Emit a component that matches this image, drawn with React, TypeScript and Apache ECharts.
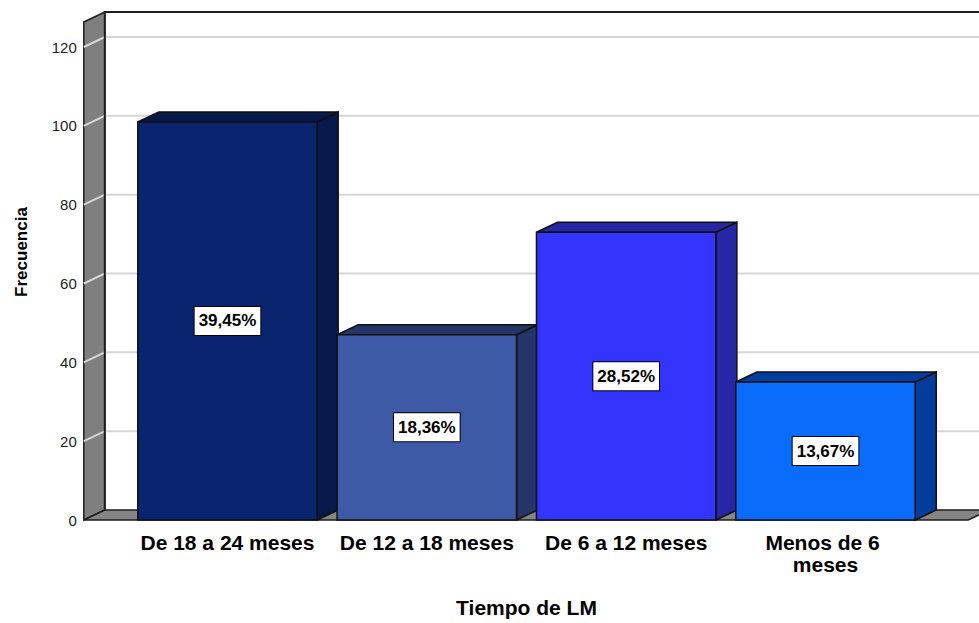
import { useEffect, useRef } from "react";
import * as echarts from "echarts";

// Duración de la lactancia materna (LM): frecuencias por categoría
const categories = ["De 18 a 24 meses", "De 12 a 18 meses", "De 6 a 12 meses", "Menos de 6 meses"];
const frequencies = [101, 47, 73, 35];
const yTicks = [20, 40, 60, 80, 100, 120];

// front face colour and darker shade for the top/side faces of each box
const frontColors = ["#0b2470", "#3e5aa7", "#3434ff", "#0a6cfb"];
const shadeColors = ["#07194a", "#253567", "#2626a6", "#003d9c"];

const total = frequencies.reduce((a, b) => a + b, 0);
const percentLabels = frequencies.map(
  (f) => (Math.round((f / total) * 10000) / 100).toFixed(2).replace(".", ",") + "%"
);

// oblique depth of the pseudo-3D projection (pixels)
const DX = 21;
const DY = -10;
const FONT = "'Liberation Sans', Arial, Helvetica, sans-serif";

export default function App() {
  const ref = useRef<HTMLDivElement>(null);

  useEffect(() => {
    document.body.style.margin = "0";
    if (!ref.current) return;
    const chart = echarts.init(ref.current, undefined, { renderer: "svg" });

    const frameRender = (params: any, api: any) => {
      const cs = params.coordSys;
      const y0 = api.coord([0, 0])[1];
      const fx = cs.x - 44;
      const fr = cs.x + cs.width + 43;
      const yTop = cs.y - 25;
      const farRight = cs.x + cs.width + 200;
      const children: any[] = [
        {
          type: "rect",
          shape: { x: fx + DX, y: yTop + DY, width: farRight - fx - DX, height: y0 - yTop },
          style: { fill: "#ffffff" },
        },
        {
          type: "polygon",
          shape: { points: [[fx, yTop], [fx + DX, yTop + DY], [fx + DX, y0 + DY], [fx, y0]] },
          style: { fill: "#7f7f7f", stroke: "#1e1e1e", lineWidth: 1.5 },
        },
        {
          type: "polygon",
          shape: { points: [[fx, y0], [fx + DX, y0 + DY], [fr + DX, y0 + DY], [fr, y0]] },
          style: { fill: "#858585", stroke: "#1e1e1e", lineWidth: 1.5 },
        },
      ];
      yTicks.forEach((v) => {
        const y = api.coord([0, v])[1];
        children.push({
          type: "polyline",
          shape: { points: [[fx, y], [fx + DX, y + DY], [farRight, y + DY]] },
          style: { stroke: "#d6d6d6", lineWidth: 2, fill: "none" },
        });
      });
      children.push({
        type: "polyline",
        shape: { points: [[fx + DX, y0 + DY], [fx + DX, yTop + DY], [farRight, yTop + DY]] },
        style: { stroke: "#1e1e1e", lineWidth: 2, fill: "none" },
      });
      return { type: "group", children };
    };

    const barRender = (params: any, api: any) => {
      const i = params.dataIndex;
      const v = api.value(1);
      const base = api.coord([i, 0]);
      const top = api.coord([i, v]);
      const w = api.size([1, 0])[0] * 0.9;
      const xl = base[0] - w / 2;
      const xr = base[0] + w / 2;
      const yb = base[1];
      const yt = top[1];
      const stroke = "#111111";
      return {
        type: "group",
        children: [
          {
            type: "polygon",
            shape: { points: [[xr, yt], [xr + DX, yt + DY], [xr + DX, yb + DY], [xr, yb]] },
            style: { fill: shadeColors[i], stroke, lineWidth: 1.5 },
          },
          {
            type: "polygon",
            shape: { points: [[xl, yt], [xl + DX, yt + DY], [xr + DX, yt + DY], [xr, yt]] },
            style: { fill: shadeColors[i], stroke, lineWidth: 1.5 },
          },
          {
            type: "rect",
            shape: { x: xl, y: yt, width: w, height: yb - yt },
            style: { fill: frontColors[i], stroke, lineWidth: 1.5 },
          },
          {
            type: "text",
            x: base[0],
            y: (yt + yb) / 2,
            style: {
              text: percentLabels[i],
              fill: "#000000",
              font: `bold 17px ${FONT}`,
              align: "center",
              verticalAlign: "middle",
              backgroundColor: "#ffffff",
              borderColor: "#000000",
              borderWidth: 1,
              padding: [6, 4, 5, 4],
            },
          },
        ],
      };
    };

    chart.setOption({
      animation: false,
      backgroundColor: "#ffffff",
      grid: { left: 127.8, right: 53.8, top: 47, bottom: 98.5, containLabel: false },
      xAxis: {
        type: "category",
        data: categories,
        axisLine: { show: false },
        axisTick: { show: false },
        splitLine: { show: false },
        axisLabel: {
          interval: 0,
          margin: 11,
          color: "#000",
          fontFamily: FONT,
          fontSize: 21,
          fontWeight: "bold",
          lineHeight: 22,
          width: 180,
          overflow: "break",
        },
        name: "Tiempo de LM",
        nameLocation: "middle",
        nameGap: 77,
        nameTextStyle: { color: "#000", fontFamily: FONT, fontSize: 21, fontWeight: "bold" },
      },
      yAxis: {
        type: "value",
        min: 0,
        max: 120,
        interval: 20,
        axisLine: { show: false },
        axisTick: { show: false },
        splitLine: { show: false },
        axisLabel: { margin: 51, color: "#222", fontFamily: FONT, fontSize: 15, padding: [4, 0, 0, 0] },
      },
      graphic: [
        {
          type: "text",
          x: 21,
          y: 252,
          rotation: Math.PI / 2,
          style: {
            text: "Frecuencia",
            fill: "#000",
            font: `bold 17px ${FONT}`,
            align: "center",
            verticalAlign: "middle",
          },
        },
      ],
      series: [
        {
          type: "custom",
          name: "frame",
          z: 1,
          silent: true,
          data: [[0, 0]],
          encode: { x: 0, y: 1 },
          renderItem: frameRender,
        },
        {
          type: "custom",
          name: "Frecuencia",
          z: 3,
          data: frequencies.map((f, i) => [i, f]),
          encode: { x: 0, y: 1 },
          renderItem: barRender,
        },
      ],
    });

    return () => chart.dispose();
  }, []);

  return (
    <div
      ref={ref}
      style={{ position: "fixed", left: 0, top: 0, width: 979, height: 623 }}
    />
  );
}
